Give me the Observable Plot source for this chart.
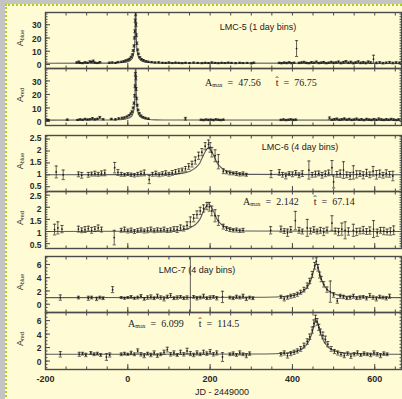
<!DOCTYPE html>
<html><head><meta charset="utf-8">
<script src="https://cdn.jsdelivr.net/npm/d3@7"></script>
<script src="https://cdn.jsdelivr.net/npm/@observablehq/plot@0.6"></script>
<style>
html,body{margin:0;padding:0}
body{width:402px;height:399px;overflow:hidden;position:relative;background:#c4c4c4;font-family:"Liberation Sans",Arial,sans-serif;color:#222}
#sheet{position:absolute;left:5px;top:4px;width:430px;height:430px;background:#fffbd5;border-left:2px dotted #a8d41c;border-top:2px dotted #a8d41c}
.pl{position:absolute;left:0}
.ylab{position:absolute;transform:translate(-50%,-50%) rotate(-90deg);font-size:9px;white-space:nowrap;color:#333}
.ylab sub{font-size:5.5px;vertical-align:-1px}
.ttl{position:absolute;font-size:9px;white-space:nowrap;color:#222;transform:translate(-50%,-50%)}
.note{position:absolute;font-family:"Liberation Serif",serif;font-size:10px;white-space:pre;color:#222;transform:translate(0,-50%)}
.note sub{font-size:6px;vertical-align:-1px}
.xcap{position:absolute;font-size:9px;white-space:nowrap;transform:translate(-50%,-50%);color:#222}
</style></head>
<body>
<div id="sheet"></div>
<script>
// ---- data: [JD-2449000, amplification, error] ----
const lmc5Blue = [[-124,1.5,0.5],[-119,2.0,0.6],[-116,1.2,0.4],[-110,1.0,0.4],[-104,1.6,0.5],[-98,1.3,0.4],[-92,2.2,0.6],[-88,1.8,0.5],[-84,2.6,0.7],[-80,1.4,0.5],[-74,1.1,0.4],[-68,1.7,0.5],[-45,1.3,0.5],[-38,1.5,0.5],[-30,1.2,0.4],[-24,1.8,0.5],[-16,2.0,0.5],[-10,2.4,0.5],[-5,3.0,0.5],[0,3.5,0.5],[4,4.2,0.5],[8,5.5,0.6],[11,7.5,0.6],[13,10.5,0.7],[15,14,0.8],[16,20,0.9],[17,25,1],[18,33,1.2],[19,38,1.2],[20,30,1.2],[21,22,1],[22,16,0.9],[24,11,0.7],[26,8,0.6],[29,5.5,0.5],[33,4,0.5],[38,3.2,0.5],[44,2.5,0.5],[50,2.0,0.5],[58,1.8,0.5],[66,1.5,0.5],[75,1.6,0.5],[84,1.3,0.4],[92,1.2,0.4],[100,1.5,0.5],[108,1.1,0.4],[116,1.4,0.4],[124,1.2,0.4],[132,1.0,0.4],[140,1.3,0.4],[150,1.1,0.4],[160,1.4,0.4],[170,1.2,0.4],[180,1.0,0.4],[188,1.3,0.4],[196,1.1,0.4],[204,1.5,0.5],[212,1.2,0.4],[220,1.0,0.4],[228,1.3,0.4],[236,1.1,0.4],[244,1.4,0.4],[252,1.2,0.4],[262,1.0,0.4],[272,1.3,0.4],[280,1.1,0.4],[290,1.2,0.4],[300,0.9,0.5],[306,1.3,0.5],[368,1.2,0.5],[374,1.0,0.5],[380,1.4,0.5],[386,1.1,0.5],[392,1.6,0.5],[398,1.0,0.5],[404,1.3,0.5],[410,12,6],[416,1.2,0.5],[422,1.5,0.5],[428,1.8,0.6],[434,1.2,0.5],[440,1.0,0.5],[446,1.6,0.6],[452,1.3,0.5],[458,2.0,0.6],[464,1.1,0.5],[470,1.4,0.5],[476,1.7,0.6],[482,1.0,0.5],[488,1.3,0.5],[494,1.8,0.6],[500,1.2,0.6],[506,1.5,0.6],[512,1.9,0.7],[518,1.1,0.6],[524,1.6,0.7],[530,2.2,0.8],[536,1.3,0.6],[542,1.8,0.7],[548,1.0,0.6],[554,1.5,0.7],[560,2.0,0.8],[566,1.2,0.6],[572,1.6,0.7],[578,1.1,0.6],[584,1.9,0.8],[590,1.4,0.7],[597,4.0,3.0],[604,1.2,0.6],[612,1.5,0.7],[620,1.0,0.6],[628,1.3,0.6],[636,1.6,0.7],[644,1.1,0.6],[652,1.4,0.7],[660,1.2,0.6]];
const lmc5Red = [[-198,1.2,0.5],[-193,1.0,0.5],[-147,1.3,0.5],[-122,1.1,0.4],[-116,1.5,0.5],[-110,1.2,0.4],[-104,1.8,0.5],[-98,1.4,0.4],[-92,1.6,0.5],[-86,2.2,0.6],[-80,1.5,0.5],[-74,1.9,0.5],[-68,3.0,0.7],[-60,1.6,0.5],[-40,1.8,0.5],[-30,1.5,0.5],[-22,2.2,0.5],[-14,2.6,0.5],[-8,2.9,0.5],[-2,3.6,0.5],[3,4.5,0.5],[7,5.6,0.6],[10,7.2,0.6],[13,10,0.7],[15,13.5,0.8],[16.5,19,0.9],[17.5,26,1],[18.5,35,1.2],[19.5,32,1.2],[20.5,24,1],[21.5,17,0.9],[23,12,0.7],[25,8.5,0.6],[28,6,0.5],[32,4.3,0.5],[37,3.2,0.5],[43,2.5,0.5],[50,2.0,0.5],[140,2.0,1.0],[178,1.2,0.5],[184,1.0,0.5],[190,1.4,0.5],[196,1.1,0.5],[202,1.3,0.5],[208,1.0,0.5],[214,1.5,0.5],[220,1.2,0.5],[226,1.0,0.5],[232,1.3,0.5],[372,1.1,0.5],[378,1.4,0.5],[384,1.0,0.5],[390,1.2,0.5],[396,1.5,0.5],[402,1.1,0.5],[408,1.3,0.5],[490,2.5,0.8],[496,1.2,0.5],[502,1.6,0.6],[508,1.9,0.6],[514,1.2,0.5],[520,1.5,0.6],[526,2.0,0.6],[532,1.3,0.5],[538,1.7,0.6],[544,1.1,0.5],[550,1.4,0.6],[556,1.9,0.6],[562,1.2,0.5],[568,1.5,0.6],[574,1.0,0.5],[580,1.7,0.6],[586,1.3,0.6],[592,1.1,0.5],[598,1.6,0.6],[604,1.2,0.5],[610,1.9,0.7],[616,1.4,0.6],[622,1.1,0.5],[628,1.5,0.6],[634,1.2,0.5],[640,1.7,0.6],[646,1.3,0.6],[652,1.0,0.5],[658,1.4,0.6]];
const lmc6Blue = [[-174,1.12,0.25],[-157,1.0,0.2],[-120,1.02,0.1],[-112,0.98,0.12],[-96,1.0,0.1],[-88,1.03,0.08],[-80,1.05,0.1],[-72,1.02,0.08],[-64,1.06,0.1],[-56,1.08,0.12],[-32,1.3,0.22],[-24,1.1,0.12],[-16,1.02,0.08],[-8,1.0,0.06],[0,1.03,0.06],[8,1.0,0.07],[16,0.98,0.07],[24,1.02,0.08],[32,1.05,0.1],[40,1.08,0.12],[52,0.8,0.17],[60,1.02,0.08],[68,1.05,0.1],[76,1.0,0.08],[84,1.04,0.09],[92,1.07,0.1],[100,1.02,0.08],[108,1.08,0.1],[116,1.12,0.1],[124,1.15,0.1],[132,1.2,0.08],[140,1.25,0.1],[148,1.35,0.12],[156,1.45,0.12],[164,1.6,0.15],[172,1.8,0.15],[180,1.95,0.15],[188,2.2,0.15],[196,2.28,0.18],[200,2.15,0.2],[204,1.95,0.2],[212,1.8,0.25],[220,1.55,0.3],[232,1.15,0.1],[240,1.1,0.06],[248,1.08,0.08],[256,1.06,0.06],[264,1.05,0.08],[272,1.02,0.07],[280,1.04,0.08],[288,1.0,0.06],[348,1.03,0.15],[368,1.1,0.12],[376,1.0,0.1],[384,0.95,0.12],[392,1.05,0.08],[400,1.02,0.1],[408,1.08,0.1],[416,0.98,0.1],[424,1.05,0.12],[440,1.2,0.38],[448,1.0,0.1],[456,1.03,0.12],[464,1.06,0.1],[472,0.98,0.12],[480,1.04,0.12],[488,1.08,0.12],[496,1.3,0.3],[500,0.7,0.25],[508,1.02,0.12],[516,1.05,0.15],[524,1.2,0.35],[532,1.0,0.12],[540,0.95,0.15],[548,1.1,0.28],[556,1.02,0.15],[564,1.05,0.12],[572,0.98,0.15],[580,1.08,0.15],[588,1.0,0.12],[596,1.15,0.2],[604,1.0,0.18],[612,1.05,0.15],[620,0.98,0.12],[628,1.06,0.15],[636,1.02,0.12],[644,0.95,0.2]];
const lmc6Red = [[-178,1.08,0.22],[-170,1.15,0.25],[-160,1.1,0.15],[-120,1.1,0.12],[-112,1.05,0.1],[-104,1.08,0.12],[-96,1.12,0.1],[-88,1.05,0.12],[-80,1.1,0.1],[-72,1.15,0.12],[-64,1.08,0.1],[-33,0.75,0.3],[-16,1.05,0.08],[-8,1.08,0.1],[0,1.02,0.08],[8,1.05,0.09],[16,1.0,0.08],[24,1.04,0.08],[32,1.06,0.09],[40,1.02,0.08],[48,1.05,0.1],[56,1.08,0.1],[64,1.03,0.08],[72,1.06,0.09],[80,1.05,0.08],[88,1.08,0.1],[96,1.04,0.08],[104,1.06,0.09],[112,1.1,0.1],[120,1.08,0.12],[128,1.15,0.12],[136,1.12,0.1],[144,1.25,0.15],[152,1.4,0.2],[160,1.55,0.15],[168,1.7,0.15],[176,1.85,0.15],[184,1.95,0.15],[192,2.05,0.15],[198,2.02,0.18],[204,1.85,0.2],[212,1.65,0.25],[220,1.45,0.2],[232,1.2,0.1],[240,1.12,0.08],[248,1.08,0.08],[256,1.05,0.07],[264,1.06,0.08],[272,1.03,0.07],[280,1.05,0.08],[347,1.05,0.15],[372,1.1,0.12],[380,1.02,0.1],[388,0.95,0.15],[396,1.08,0.12],[407,1.45,0.38],[416,1.05,0.12],[424,1.0,0.1],[436,1.15,0.35],[444,1.02,0.12],[452,1.08,0.12],[460,1.0,0.1],[468,1.05,0.12],[476,0.98,0.15],[484,1.06,0.12],[496,1.35,0.3],[504,1.02,0.12],[512,0.98,0.15],[520,1.1,0.25],[528,1.05,0.35],[536,1.0,0.15],[548,1.05,0.25],[556,0.98,0.15],[564,1.02,0.12],[572,1.06,0.15],[580,1.0,0.12],[588,1.04,0.15],[597,1.1,0.35],[606,0.95,0.15],[614,1.05,0.12],[622,1.02,0.15],[630,0.98,0.12],[638,1.0,0.15],[646,1.05,0.18]];
const lmc7Blue = [[-164,1.0,0.4],[-120,1.0,0.2],[-96,0.9,0.3],[-88,1.0,0.2],[-76,0.8,0.25],[-68,1.0,0.2],[-60,0.9,0.2],[-37,2.2,0.45],[-16,1.0,0.15],[-8,0.9,0.15],[0,1.0,0.15],[8,1.1,0.2],[16,0.9,0.15],[24,1.0,0.2],[32,1.2,0.25],[40,0.8,0.2],[48,1.0,0.25],[56,1.1,0.3],[64,0.9,0.2],[72,1.2,0.3],[80,1.0,0.25],[88,0.8,0.3],[96,1.1,0.25],[104,1.3,0.3],[112,0.9,0.2],[120,1.0,0.25],[128,1.1,0.2],[136,0.9,0.2],[144,1.0,0.25],[152,1.0,20],[160,1.1,0.2],[168,0.9,0.25],[176,1.0,0.2],[184,1.2,0.3],[192,0.9,0.2],[200,1.0,0.25],[208,1.1,0.2],[216,0.9,0.25],[230,1.1,0.85],[248,1.0,0.2],[256,0.9,0.2],[264,1.1,0.25],[272,1.0,0.2],[280,1.2,0.3],[288,0.8,0.25],[296,1.0,0.2],[304,0.9,0.2],[372,1.1,0.25],[380,0.8,0.3],[388,1.0,0.25],[396,1.2,0.3],[404,1.3,0.3],[412,1.5,0.3],[420,1.8,0.3],[428,2.2,0.35],[436,2.8,0.4],[442,3.5,0.4],[448,4.5,0.45],[454,5.8,0.5],[458,6.5,0.5],[462,5.5,0.5],[466,4.4,0.45],[470,3.8,0.4],[476,3.0,0.4],[484,2.2,0.4],[492,1.9,1.6],[500,1.4,0.35],[509,0.5,0.35],[516,1.2,0.3],[524,1.1,0.25],[532,0.9,0.2],[540,1.0,0.25],[548,1.2,0.3],[556,0.9,0.2],[564,1.0,0.25],[572,1.1,0.2],[580,0.9,0.25],[588,1.3,0.3],[596,1.0,0.25],[604,0.8,0.3],[612,1.1,0.25],[620,1.0,0.2],[628,0.9,0.25],[636,1.2,0.3]];
const lmc7Red = [[-164,1.0,0.4],[-118,1.0,0.3],[-110,1.1,0.2],[-102,0.9,0.25],[-90,1.2,0.2],[-82,1.0,0.2],[-74,1.1,0.2],[-66,0.9,0.2],[-52,0.6,0.5],[-44,0.9,0.3],[-16,1.0,0.2],[-8,1.1,0.2],[0,1.0,0.15],[8,1.2,0.25],[16,1.0,0.2],[24,1.5,0.3],[32,1.0,0.25],[40,0.8,0.3],[48,1.1,0.2],[56,0.9,0.25],[64,1.2,0.3],[72,0.8,0.25],[80,1.0,0.2],[88,1.3,0.3],[96,1.7,0.35],[104,1.0,0.25],[112,1.2,0.3],[120,0.9,0.2],[128,1.3,0.3],[136,1.0,0.25],[144,1.5,0.4],[152,1.1,0.3],[160,0.9,0.25],[168,1.2,0.3],[176,1.0,0.2],[184,1.3,0.3],[192,1.1,0.25],[200,1.4,0.3],[208,1.0,0.25],[216,1.2,0.3],[230,0.6,0.65],[248,1.0,0.2],[256,1.1,0.25],[264,0.9,0.2],[272,1.2,0.3],[280,1.0,0.2],[288,0.8,0.3],[296,1.1,0.25],[372,1.0,0.25],[380,1.2,0.3],[388,0.8,0.35],[396,1.1,0.3],[404,1.3,0.3],[412,1.5,0.3],[420,1.8,0.35],[428,2.3,0.35],[436,2.9,0.4],[442,3.6,0.4],[448,4.6,0.45],[452,5.6,0.5],[456,6.3,0.5],[460,5.8,0.5],[464,5.0,0.45],[468,4.3,0.45],[474,3.8,0.5],[480,3.2,0.5],[486,2.5,0.4],[494,1.8,0.35],[502,1.4,0.3],[510,1.2,0.3],[518,1.0,0.25],[526,0.8,0.3],[534,1.1,0.25],[542,0.7,0.3],[550,1.0,0.25],[558,1.2,0.3],[566,0.9,0.2],[574,1.1,0.25],[582,1.0,0.2],[590,0.9,0.25],[598,1.2,0.3],[606,1.0,0.25],[614,0.8,0.3],[622,1.1,0.25],[630,1.0,0.2]];
// fitted curves: [JD-2449000, amplification]
const lmc5Fit = [[-200,1],[-65,1.05],[-30,1.2],[-12,1.5],[-2,2],[5.6,3],[11.4,5],[15.2,10],[17.3,20],[19,47.56],[20.7,20],[22.8,10],[26.6,5],[32.4,3],[40,2],[50.5,1.5],[68,1.2],[103,1.05],[665,1]];
const lmc6Fit = [[-200,1],[104,1.02],[135,1.07],[151,1.15],[165,1.3],[175,1.5],[183,1.8],[189,2.0],[196,2.142],[203,2.0],[209,1.8],[217,1.5],[227,1.3],[241,1.15],[257,1.07],[288,1.02],[665,1]];
const lmc7Fit = [[-200,1],[333,1.05],[386,1.2],[412,1.5],[428,2],[440.5,3],[447,4],[458,6.099],[469,4],[475.5,3],[488,2],[504,1.5],[530,1.2],[583,1.05],[665,1]];
// axes
const xDomain = [-200, 665];
const xMajor = [-200, 0, 200, 400, 600];
const xMinor = d3.range(-200, 651, 50);
const titles = ["LMC-5 (1 day bins)", "LMC-6 (4 day bins)", "LMC-7 (4 day bins)"];
const notes = [["47.56", "76.75"], ["2.142", "67.14"], ["6.099", "114.5"]];
const xCaption = "JD - 2449000";

const dash = {draw(ctx, size) { const r = Math.sqrt(size) * 0.75; ctx.moveTo(-r, 0); ctx.lineTo(r, 0); }};

const panels = [
  {data: lmc5Blue, fit: lmc5Fit, dom: [-3, 39.2], major: [0,10,20,30], minor: d3.range(0, 39, 2), top: 12, h: 56, band: "blue", ldy: 1},
  {data: lmc5Red, fit: lmc5Fit, dom: [-3, 39.2], major: [0,10,20,30], minor: d3.range(0, 39, 2), top: 68, h: 57, band: "red", ldy: 1},
  {data: lmc6Blue, fit: lmc6Fit, dom: [0.3, 2.65], major: [0.5,1,1.5,2,2.5], minor: d3.range(0.4, 2.65, 0.1), top: 135, h: 56, band: "blue", ldy: -0.5},
  {data: lmc6Red, fit: lmc6Fit, dom: [0.3, 2.65], major: [0.5,1,1.5,2,2.5], minor: d3.range(0.4, 2.65, 0.1), top: 191, h: 57, band: "red", ldy: 1.5},
  {data: lmc7Blue, fit: lmc7Fit, dom: [-1.25, 7.2], major: [0,2,4,6], minor: d3.range(-1, 7.2, 0.5), top: 256, h: 56, band: "blue", ldy: 1},
  {data: lmc7Red, fit: lmc7Fit, dom: [-1.25, 7.2], major: [0,2,4,6], minor: d3.range(-1, 7.2, 0.5), top: 312, h: 57, band: "red", ldy: 1, last: true}
];

const ink = "#1e1e1e", frameInk = "#4a4a4a";
panels.forEach((p, i) => {
  const mb = p.last ? 20 : 0;
  const X = d => d[0];
  const chart = Plot.plot({
    width: 402, height: p.h + mb,
    marginLeft: 45, marginRight: 1, marginTop: 0, marginBottom: mb,
    style: {background: "transparent", overflow: "visible", fontFamily: "Liberation Sans, Arial, sans-serif", fontSize: "9px", color: "#222"},
    x: {domain: xDomain, label: null, axis: null},
    y: {domain: p.dom, label: null, axis: null},
    marks: [
      Plot.line(p.fit, {x: X, y: d => d[1], stroke: "#5c5c5c", strokeWidth: 1.1, clip: true, curve: "monotone-x"}),
      Plot.ruleX(p.data, {x: X, y1: d => d[1] - d[2], y2: d => d[1] + d[2], stroke: ink, strokeWidth: 0.7, clip: true}),
      Plot.dot(p.data, {x: X, y: d => d[1] - d[2], symbol: dash, r: 1.2, stroke: ink, strokeWidth: 0.7, clip: true}),
      Plot.dot(p.data, {x: X, y: d => d[1] + d[2], symbol: dash, r: 1.2, stroke: ink, strokeWidth: 0.7, clip: true}),
      Plot.dot(p.data, {x: X, y: d => d[1], r: 0.9, fill: ink, clip: true}),
      Plot.frame({stroke: frameInk, strokeWidth: 1.4}),
      Plot.axisX({ticks: xMinor, anchor: "bottom", tickSize: 2.5, dy: -2.5, fill: "none", stroke: frameInk}),
      Plot.axisX({ticks: xMajor, anchor: "bottom", tickSize: 5, dy: -5, fill: "none", stroke: frameInk}),
      Plot.axisX({ticks: xMinor, anchor: "top", tickSize: 2.5, dy: 2.5, fill: "none", stroke: frameInk}),
      Plot.axisY({ticks: p.minor, anchor: "left", tickSize: 2.5, dx: 2.5, fill: "none", stroke: frameInk}),
      Plot.axisY({ticks: p.major, anchor: "left", tickSize: 5, dx: 5, fill: "none", stroke: frameInk}),
      Plot.axisY({ticks: p.minor, anchor: "right", tickSize: 2.5, dx: -2.5, fill: "none", stroke: frameInk}),
      Plot.axisY({ticks: p.major, anchor: "left", tickSize: 0, tickPadding: 4, dy: p.ldy, fontSize: 8.5, fontWeight: "bold", fill: "#2a2a2a", tickFormat: d => String(d)}),
      p.last ? Plot.axisX({ticks: xMajor, anchor: "bottom", tickSize: 0, tickPadding: 6, fontWeight: "bold", fill: "#2a2a2a", tickFormat: d => String(d)}) : null
    ]
  });
  chart.classList.add("pl");
  chart.style.position = "absolute";
  chart.style.top = p.top + "px";
  document.body.appendChild(chart);

  const yl = document.createElement("div");
  yl.className = "ylab";
  yl.innerHTML = "A<sub>" + p.band + "</sub>";
  yl.style.left = "20px";
  yl.style.top = (p.top + p.h / 2 - 2) + "px";
  document.body.appendChild(yl);
});

const ttlPos = [[258, 27], [300, 147], [197, 270]];
titles.forEach((t, i) => {
  const d = document.createElement("div");
  d.className = "ttl"; d.textContent = t;
  d.style.left = ttlPos[i][0] + "px"; d.style.top = ttlPos[i][1] + "px";
  document.body.appendChild(d);
});
const notePos = [[205, 82], [243, 201], [128, 323]];
notes.forEach((n, i) => {
  const d = document.createElement("div");
  d.className = "note";
  d.innerHTML = "A<sub>max</sub>  =  " + n[0] + "      t\u0302  =  " + n[1];
  d.style.left = notePos[i][0] + "px"; d.style.top = notePos[i][1] + "px";
  document.body.appendChild(d);
});
const cap = document.createElement("div");
cap.className = "xcap"; cap.textContent = xCaption;
cap.style.left = "222px"; cap.style.top = "392px";
document.body.appendChild(cap);
</script>
</body></html>
